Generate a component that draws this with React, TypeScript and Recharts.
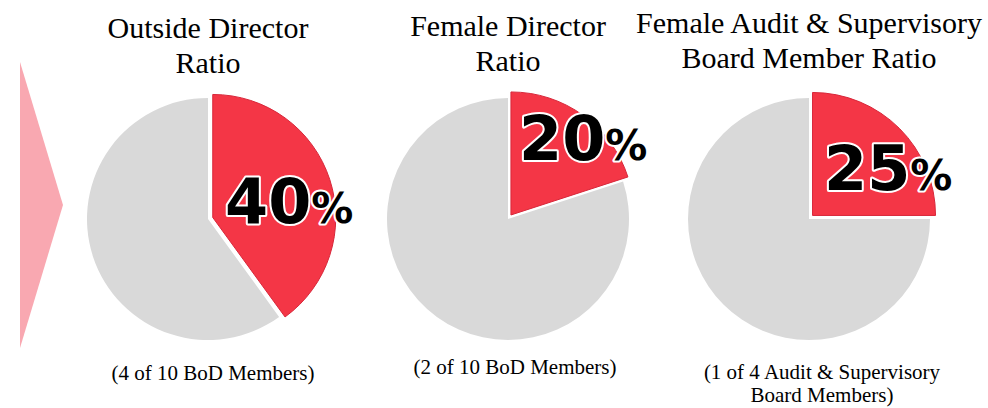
import { PieChart, Pie, Cell } from 'recharts';

// chart data
const titleLines = [
  ['Outside Director', 'Ratio'],
  ['Female Director', 'Ratio'],
  ['Female Audit & Supervisory', 'Board Member Ratio'],
];
const noteLines = [
  ['(4 of 10 BoD Members)'],
  ['(2 of 10 BoD Members)'],
  ['(1 of 4 Audit & Supervisory', 'Board Members)'],
];
const memberCounts = [4, 2, 1];
const boardSizes = [10, 10, 4];

const RED = '#F43646';
const GREY = '#D9D9D9';
const EXPLODE = 5;

// layout for each pie (pixels)
const layout = [
  { cx: 208, cy: 219, titleTop: 10, noteTop: 362, noteX: 213, labelX: 225, labelY: 223 },
  { cx: 508, cy: 219, titleTop: 8, noteTop: 356, noteX: 515, labelX: 519, labelY: 160 },
  { cx: 809, cy: 219, titleTop: 5, noteTop: 361, noteX: 822, labelX: 824, labelY: 190 },
];

const serif = '"Liberation Serif", "Times New Roman", serif';

const App = () => {
  return (
    <div style={{ position: 'absolute', left: 0, top: 0, width: 988, height: 408, background: '#fff', overflow: 'hidden' }}>
      <svg width={988} height={408} style={{ position: 'absolute', left: 0, top: 0 }}>
        <polygon points="20,62 63,205 20,348" fill="#F9A8B1" />
      </svg>
      <div style={{ position: 'absolute', left: 0, top: 0 }}>
        <PieChart width={988} height={408} margin={{ top: 0, right: 0, bottom: 0, left: 0 }}>
          {layout.map((l, i) => {
            const data = [
              { name: 'share', value: memberCounts[i] },
              { name: 'rest', value: boardSizes[i] - memberCounts[i] },
            ];
            const mid = ((90 - (180 * memberCounts[i]) / boardSizes[i]) * Math.PI) / 180;
            const dx = EXPLODE * Math.cos(mid);
            const dy = -EXPLODE * Math.sin(mid);
            const pct = Math.round((memberCounts[i] / boardSizes[i]) * 100);
            return [
              <Pie
                key={`base${i}`}
                data={data}
                dataKey="value"
                cx={l.cx}
                cy={l.cy}
                outerRadius={121}
                startAngle={90}
                endAngle={-270}
                stroke="none"
                isAnimationActive={false}
              >
                <Cell fill="transparent" />
                <Cell fill={GREY} />
              </Pie>,
              <Pie
                key={`slice${i}`}
                data={data}
                dataKey="value"
                cx={l.cx + dx}
                cy={l.cy + dy}
                outerRadius={123}
                startAngle={90}
                endAngle={-270}
                labelLine={false}
                isAnimationActive={false}
                label={(p: any) =>
                  p.index === 0 ? (
                    <text
                      x={l.labelX}
                      y={l.labelY}
                      fill="#000"
                      stroke="#fff"
                      strokeWidth={4}
                      paintOrder="stroke"
                      strokeLinejoin="round"
                      fontFamily='"DejaVu Sans", Verdana, sans-serif'
                      fontWeight="bold"
                    >
                      <tspan fontSize={62}>{pct}</tspan>
                      <tspan fontSize={42}>%</tspan>
                    </text>
                  ) : null
                }
              >
                <Cell fill={RED} stroke="#D8273A" strokeWidth={1} />
                <Cell fill="transparent" stroke="none" />
              </Pie>,
            ];
          })}
        </PieChart>
      </div>
      {layout.map((l, i) => (
        <div
          key={`t${i}`}
          style={{ position: 'absolute', left: l.cx - 180, width: 360, top: l.titleTop, textAlign: 'center', fontFamily: serif, fontSize: 30, lineHeight: '35px', color: '#000' }}
        >
          {titleLines[i].map((t) => (
            <div key={t}>{t}</div>
          ))}
        </div>
      ))}
      {layout.map((l, i) => (
        <div
          key={`n${i}`}
          style={{ position: 'absolute', left: l.noteX - 160, width: 320, top: l.noteTop, textAlign: 'center', fontFamily: serif, fontSize: 21, lineHeight: '23px', color: '#000' }}
        >
          {noteLines[i].map((t) => (
            <div key={t}>{t}</div>
          ))}
        </div>
      ))}
    </div>
  );
};

export default App;
